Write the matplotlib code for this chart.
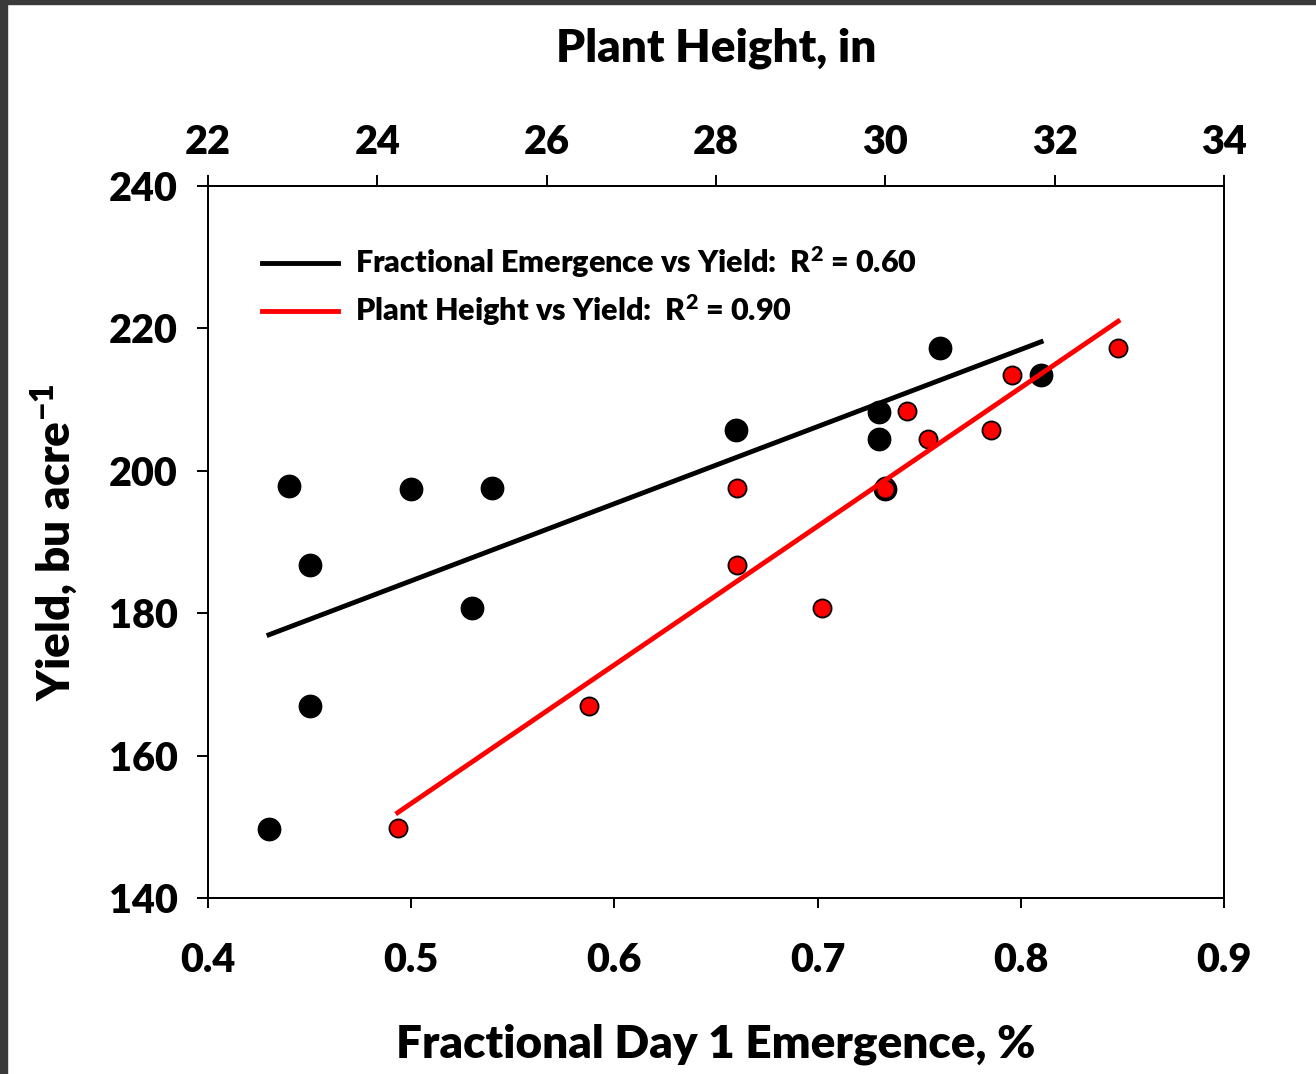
import numpy as np
import matplotlib
matplotlib.use('Agg')
import matplotlib.pyplot as plt
from matplotlib.patches import Rectangle
from matplotlib.lines import Line2D

plt.rcParams['font.family'] = ['Lato', 'DejaVu Sans']
plt.rcParams['font.weight'] = 'heavy'
plt.rcParams['axes.labelweight'] = 'heavy'
plt.rcParams['mathtext.fontset'] = 'custom'
plt.rcParams['mathtext.bf'] = 'Lato:heavy'
plt.rcParams['mathtext.rm'] = 'Lato:heavy'
plt.rcParams['mathtext.default'] = 'bf'

# Fractional day 1 emergence vs yield (black)
emergence = [0.43, 0.44, 0.45, 0.45, 0.50, 0.53, 0.54, 0.66, 0.73, 0.73, 0.733, 0.76, 0.81]
yield_em = [149.7, 197.9, 186.8, 167.0, 197.4, 180.7, 197.6, 205.7, 208.3, 204.5, 197.5, 217.2, 213.5]

# Plant height vs yield (red)
height = [24.24, 26.5, 28.25, 28.25, 29.25, 30.0, 30.0, 30.26, 30.5, 31.25, 31.5, 32.75]
yield_ht = [149.8, 167.0, 197.6, 186.8, 180.7, 197.9, 197.4, 208.4, 204.5, 205.7, 213.5, 217.2]

# regression lines (slope, intercept) as shown
fit_em = (108.3, 130.4)
fit_ht = (8.11, -44.6)
r2_em = 0.60
r2_ht = 0.90

W, H = 1316, 1074
fig = plt.figure(figsize=(W / 100, H / 100), dpi=100)
ax = fig.add_axes([208 / W, 1 - 898 / H, (1224 - 208) / W, (898 - 186) / H])

# black series
ax.scatter(emergence, yield_em, s=260, color='black', zorder=3)
xe = np.array([min(emergence), max(emergence)])
ax.plot(xe, fit_em[0] * xe + fit_em[1], color='black', lw=3.5, zorder=4)

ax.set_xlim(0.4, 0.9)
ax.set_ylim(140, 240)
ax.set_xticks(np.arange(0.4, 0.91, 0.1))
ax.set_xticklabels(['0.4', '0.5', '0.6', '0.7', '0.8', '0.9'])
ax.set_yticks(np.arange(140, 241, 20))
ax.tick_params(axis='x', direction='out', length=7, width=1.4, labelsize=28.5, pad=25)
ax.tick_params(axis='y', direction='out', length=8, width=1.4, labelsize=28.5, pad=14)
ax.set_xlabel('Fractional Day 1 Emergence, %', fontsize=33, labelpad=32)
ax.set_ylabel('Yield, bu acre$^{-1}$', fontsize=33, labelpad=20)

# red series on top axis
ax2 = ax.twiny()
ax2.scatter(height, yield_ht, s=170, color='red', edgecolor='black', linewidth=1.3, zorder=3)
xh = np.array([min(height), max(height)])
ax2.plot(xh, fit_ht[0] * xh + fit_ht[1], color='red', lw=3.5, zorder=4)
ax2.set_xlim(22, 34)
ax2.set_xticks(np.arange(22, 35, 2))
ax2.tick_params(axis='x', direction='out', length=8, width=1.4, labelsize=28.5, pad=10)
ax2.set_xlabel('Plant Height, in', fontsize=33, labelpad=45)

for a in (ax, ax2):
    for s in a.spines.values():
        s.set_linewidth(1.4)

handles = [Line2D([], [], color='black', lw=3.5),
           Line2D([], [], color='red', lw=3.5)]
labels = [f'Fractional Emergence vs Yield:  R$^{{2}}$ = {r2_em:.2f}',
          f'Plant Height vs Yield:  R$^{{2}}$ = {r2_ht:.2f}']
ax2.legend(handles, labels, loc='upper left', bbox_to_anchor=(0.026, 0.956),
           frameon=False, handlelength=2.5, handletextpad=0.55,
           labelspacing=0.4, prop={'weight': 'heavy', 'size': 22})

# dark border strips from the screenshot
fig.patches.append(Rectangle((0, 0), 7 / W, 1, transform=fig.transFigure,
                             color='#3a3a3a', zorder=10))
fig.patches.append(Rectangle((0, 1 - 4 / H), 1, 4 / H, transform=fig.transFigure,
                             color='#3a3a3a', zorder=10))

fig.savefig('out.png', dpi=100)
